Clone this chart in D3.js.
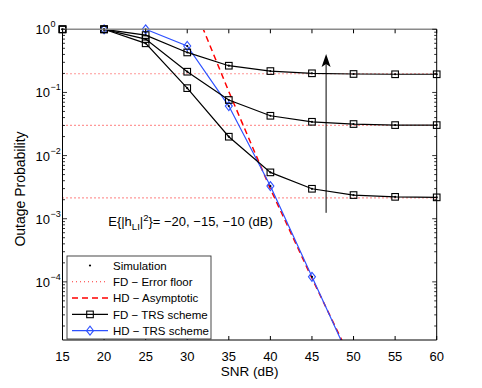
<!DOCTYPE html>
<html>
<head>
<meta charset="utf-8">
<script src="https://cdn.jsdelivr.net/npm/d3@7"></script>
<style>
  body { margin: 0; background: #fff; }
  svg text { font-family: "Liberation Sans", Arial, sans-serif; fill: #000; }
</style>
</head>
<body>
<div id="chart"></div>
<script>
// SNR grid (dB)
var snr = [15, 20, 25, 30, 35, 40, 45, 50, 55, 60];

// FD - TRS scheme, one series per E{|h_LI|^2} = -10, -15, -20 dB
var fd10 = [1, 1, 0.81, 0.43, 0.265, 0.218, 0.201, 0.196, 0.194, 0.194];
var fd15 = [1, 1, 0.70, 0.213, 0.0759, 0.0427, 0.0343, 0.0316, 0.0304, 0.0304];
var fd20 = [1, 1, 0.60, 0.117, 0.0199, 0.00542, 0.00298, 0.00237, 0.00222, 0.00218];

// FD error floors
var floors = [0.198, 0.0301, 0.00214];

// HD - TRS scheme
var hdSnr = [20, 25, 30, 35, 40, 45, 50];
var hdVal = [1, 1, 0.544, 0.0608, 0.00329, 0.00012, 0.0000044];

// HD - asymptotic
var asySnr = [30, 35, 40, 45, 50];
var asyVal = [4.2, 0.103, 0.00297, 0.000114, 0.0000049];

var xTicks = [15, 20, 25, 30, 35, 40, 45, 50, 55, 60];
var yDecades = [0, -1, -2, -3, -4];

var legendItems = ['Simulation', 'FD \u2212 Error floor', 'HD \u2212 Asymptotic', 'FD \u2212 TRS scheme', 'HD \u2212 TRS scheme'];
var noteText = 'E{|h';

var W = 482, H = 388;
var L = 62.5, R = 436.7, T = 29.3, B = 340;
var yMin = 1.2e-5;

var svg = d3.select('#chart').append('svg')
  .attr('width', W).attr('height', H);

var x = d3.scaleLinear().domain([15, 60]).range([L, R]);
var y = d3.scaleLog().domain([yMin, 1]).range([B, T]);

svg.append('clipPath').attr('id', 'clip')
  .append('rect').attr('x', L).attr('y', T).attr('width', R - L).attr('height', B - T);

var plot = svg.append('g').attr('clip-path', 'url(#clip)');
var marks = svg.append('g');

// error floors
floors.forEach(function(f) {
  plot.append('line')
    .attr('x1', L).attr('x2', R)
    .attr('y1', y(f)).attr('y2', y(f))
    .attr('stroke', '#ff3030').attr('stroke-width', 1.1)
    .attr('stroke-dasharray', '1,3');
});

function pts(xs, ys) {
  return xs.map(function(v, i) { return [v, ys[i]]; });
}

var line = d3.line()
  .x(function(d) { return x(d[0]); })
  .y(function(d) { return y(d[1]); });

// asymptote
plot.append('path')
  .attr('d', line(pts(asySnr, asyVal)))
  .attr('fill', 'none').attr('stroke', '#ff0000')
  .attr('stroke-width', 1.5).attr('stroke-dasharray', '6,4');

// HD TRS
var hdPts = pts(hdSnr, hdVal);
plot.append('path')
  .attr('d', line(hdPts))
  .attr('fill', 'none').attr('stroke', '#2f52ff').attr('stroke-width', 1.2);

function diamond(g, px, py) {
  g.append('path')
    .attr('d', 'M' + px + ',' + (py - 4.5) + 'L' + (px + 3.5) + ',' + py + 'L' + px + ',' + (py + 4.5) + 'L' + (px - 3.5) + ',' + py + 'Z')
    .attr('fill', 'none').attr('stroke', '#2f52ff').attr('stroke-width', 1.1);
}
function square(g, px, py) {
  g.append('rect')
    .attr('x', px - 3.3).attr('y', py - 3.3).attr('width', 6.6).attr('height', 6.6)
    .attr('fill', 'none').attr('stroke', '#000').attr('stroke-width', 1.1);
}
function dot(g, px, py) {
  g.append('circle').attr('cx', px).attr('cy', py).attr('r', 1.1).attr('fill', '#000');
}

// FD TRS curves
[fd10, fd15, fd20].forEach(function(s) {
  plot.append('path')
    .attr('d', line(pts(snr, s)))
    .attr('fill', 'none').attr('stroke', '#000').attr('stroke-width', 1.2);
});

// axes box
svg.append('line').attr('x1', L).attr('x2', R).attr('y1', T).attr('y2', T)
  .attr('stroke', '#8a8a8a').attr('stroke-width', 1.6);
svg.append('line').attr('x1', L).attr('x2', R).attr('y1', B).attr('y2', B)
  .attr('stroke', '#000').attr('stroke-width', 1);
svg.append('line').attr('x1', L).attr('x2', L).attr('y1', T).attr('y2', B)
  .attr('stroke', '#000').attr('stroke-width', 1);
svg.append('line').attr('x1', R).attr('x2', R).attr('y1', T).attr('y2', B)
  .attr('stroke', '#000').attr('stroke-width', 1);

// markers are not clipped (like matlab)
hdPts.forEach(function(d) {
  if (d[1] >= yMin) diamond(marks, x(d[0]), y(d[1]));
});
[fd10, fd15, fd20].forEach(function(s) {
  pts(snr, s).forEach(function(d) { square(marks, x(d[0]), y(d[1])); });
});

// simulation dots
[fd10, fd15, fd20].forEach(function(s) {
  pts(snr, s).forEach(function(d) { dot(marks, x(d[0]), y(d[1])); });
});
hdPts.forEach(function(d) {
  if (d[1] >= yMin) dot(marks, x(d[0]), y(d[1]));
});

// x ticks
xTicks.forEach(function(t) {
  var px = x(t);
  svg.append('line').attr('x1', px).attr('x2', px).attr('y1', B).attr('y2', B - 4)
    .attr('stroke', '#000');
  svg.append('line').attr('x1', px).attr('x2', px).attr('y1', T).attr('y2', T + 4)
    .attr('stroke', '#000');
  svg.append('text').attr('x', px).attr('y', B + 21)
    .attr('text-anchor', 'middle').attr('font-size', 13).text(t);
});

// y ticks
for (var e = -5; e <= 0; e++) {
  for (var m = 1; m <= 9; m++) {
    var v = m * Math.pow(10, e);
    if (v < yMin || v > 1) continue;
    var len = m == 1 ? 4.5 : 2.5;
    svg.append('line').attr('x1', L).attr('x2', L + len).attr('y1', y(v)).attr('y2', y(v))
      .attr('stroke', '#000').attr('stroke-width', 0.8);
    svg.append('line').attr('x1', R).attr('x2', R - len).attr('y1', y(v)).attr('y2', y(v))
      .attr('stroke', '#000').attr('stroke-width', 0.8);
  }
}
yDecades.forEach(function(e) {
  svg.append('text').attr('x', 50).attr('y', y(Math.pow(10, e)) + 5)
    .attr('text-anchor', 'end').attr('font-size', 13).text('10');
  svg.append('text').attr('x', 50.5).attr('y', y(Math.pow(10, e)) - 2)
    .attr('font-size', 9).text(e == 0 ? '0' : '\u2212' + (-e));
});

// axis titles
svg.append('text').attr('x', (L + R) / 2).attr('y', 376)
  .attr('text-anchor', 'middle').attr('font-size', 13.5).text('SNR (dB)');
svg.append('text')
  .attr('transform', 'translate(24.5,189) rotate(-90)')
  .attr('text-anchor', 'middle').attr('font-size', 14).text('Outage Probability');

// arrow
var ax = x(46.7);
svg.append('line').attr('x1', ax).attr('x2', ax).attr('y1', y(1.24e-3)).attr('y2', y(0.406) + 8)
  .attr('stroke', '#000').attr('stroke-width', 1);
var ty = y(0.406);
svg.append('path')
  .attr('d', 'M' + ax + ',' + ty + 'L' + (ax + 4.5) + ',' + (ty + 13) + 'L' + ax + ',' + (ty + 10) + 'L' + (ax - 4.5) + ',' + (ty + 13) + 'Z')
  .attr('fill', '#000');

// annotation
var note = svg.append('text').attr('x', x(20.5)).attr('y', y(7.8e-4)).attr('font-size', 13);
note.append('tspan').text(noteText);
note.append('tspan').attr('font-size', 9.5).attr('dy', 4).text('LI');
note.append('tspan').attr('dy', -4).text('|');
note.append('tspan').attr('font-size', 9.5).attr('dy', -5).text('2');
note.append('tspan').attr('dy', 5).text('}= \u221220, \u221215, \u221210 (dB)');

// legend
var lg = svg.append('g').attr('transform', 'translate(67,256)');
lg.append('rect').attr('width', 144).attr('height', 83)
  .attr('fill', '#fff').attr('stroke', '#333').attr('stroke-width', 0.9);
legendItems.forEach(function(name, i) {
  var ly = 9.5 + i * 16.3;
  var g = lg.append('g');
  if (i == 0) {
    dot(g, 23, ly);
  } else if (i == 1) {
    g.append('line').attr('x1', 5).attr('x2', 41).attr('y1', ly).attr('y2', ly)
      .attr('stroke', '#ff3030').attr('stroke-width', 1.1).attr('stroke-dasharray', '1,3');
  } else if (i == 2) {
    g.append('line').attr('x1', 5).attr('x2', 41).attr('y1', ly).attr('y2', ly)
      .attr('stroke', '#ff0000').attr('stroke-width', 1.5).attr('stroke-dasharray', '6,4');
  } else if (i == 3) {
    g.append('line').attr('x1', 5).attr('x2', 41).attr('y1', ly).attr('y2', ly)
      .attr('stroke', '#000').attr('stroke-width', 1.2);
    square(g, 23, ly);
  } else {
    g.append('line').attr('x1', 5).attr('x2', 41).attr('y1', ly).attr('y2', ly)
      .attr('stroke', '#2f52ff').attr('stroke-width', 1.2);
    diamond(g, 23, ly);
  }
  g.append('text').attr('x', 46).attr('y', ly + 4.2).attr('font-size', 11.5).text(name);
});
</script>
</body>
</html>
